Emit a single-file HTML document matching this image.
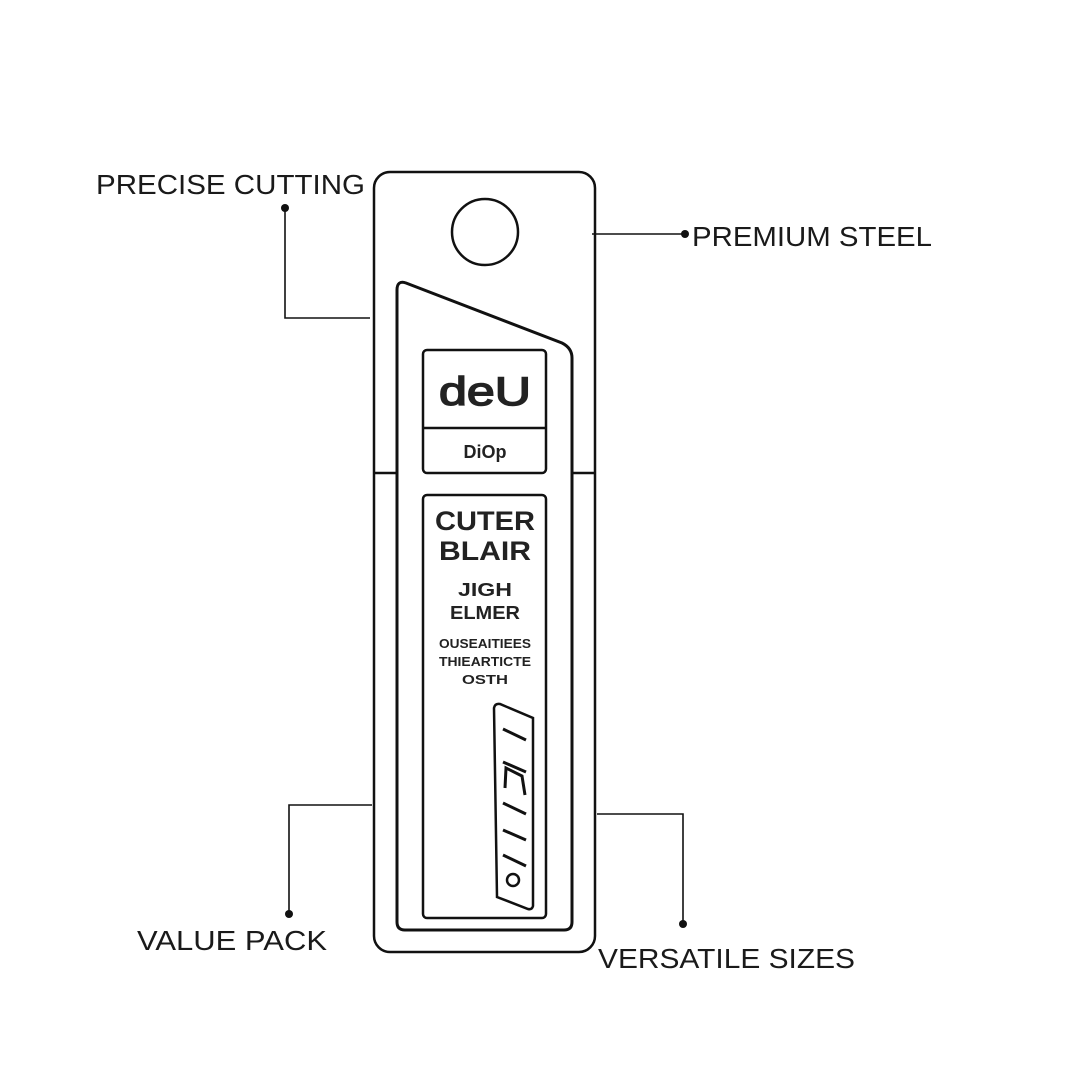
<!DOCTYPE html>
<html><head><meta charset="utf-8"><style>html,body{margin:0;padding:0;background:#fff}</style></head>
<body>
<svg width="1080" height="1080" viewBox="0 0 1080 1080" xmlns="http://www.w3.org/2000/svg">
<rect width="1080" height="1080" fill="#fff"/>
<g fill="none" stroke="#111" stroke-width="2.5">
<rect x="374" y="172" width="221" height="780" rx="16"/>
<circle cx="485" cy="232" r="33"/>
<path d="M397 922 L397 290 Q397 280 406 283 L562 343 Q572 348 572 358 L572 922 Q572 930 564 930 L405 930 Q397 930 397 922 Z" stroke-width="3"/>
<line x1="374" y1="473" x2="397" y2="473"/>
<line x1="572" y1="473" x2="595" y2="473"/>
<rect x="423" y="350" width="123" height="123" rx="4"/>
<line x1="423" y1="428" x2="546" y2="428"/>
<rect x="423" y="495" width="123" height="423" rx="4"/>
<path d="M494 708 Q495 703 500 704 L533 718 L533 906 Q532 910 528 909 L497 897 Z" stroke-width="2.5"/>
<line x1="503" y1="729" x2="526" y2="740" stroke-width="3"/>
<line x1="503" y1="762" x2="526" y2="772" stroke-width="3"/>
<path d="M505 788 L506 768 L522 776 L525 795" stroke-width="3"/>
<line x1="503" y1="803" x2="526" y2="814" stroke-width="3"/>
<line x1="503" y1="830" x2="526" y2="840" stroke-width="3"/>
<line x1="503" y1="855" x2="526" y2="866" stroke-width="3"/>
<circle cx="513" cy="880" r="6"/>
</g>
<g fill="none" stroke="#111" stroke-width="1.6">
<polyline points="285,208 285,318 370,318"/>
<line x1="592" y1="234" x2="685" y2="234"/>
<polyline points="289,914 289,805 372,805"/>
<polyline points="683,924 683,814 597,814"/>
</g>
<g fill="#111">
<circle cx="285" cy="208" r="4"/>
<circle cx="685" cy="234" r="4"/>
<circle cx="289" cy="914" r="4"/>
<circle cx="683" cy="924" r="4"/>
</g>
<g font-family="Liberation Sans, sans-serif" font-size="28" fill="#1a1a1a" font-weight="normal">
<text x="96" y="194" textLength="269" lengthAdjust="spacingAndGlyphs">PRECISE CUTTING</text>
<text x="692" y="246" textLength="240" lengthAdjust="spacingAndGlyphs">PREMIUM STEEL</text>
<text x="137" y="950" textLength="190" lengthAdjust="spacingAndGlyphs">VALUE PACK</text>
<text x="598" y="968" textLength="257" lengthAdjust="spacingAndGlyphs">VERSATILE SIZES</text>
</g>
<g font-family="Liberation Sans, sans-serif" fill="#222" text-anchor="middle" font-weight="bold">
<text x="485" y="405" font-size="40" font-weight="normal" stroke="#222" stroke-width="1.5" textLength="92" lengthAdjust="spacingAndGlyphs">deU</text>
<text x="485" y="458" font-size="18">DiOp</text>
<text x="485" y="530" font-size="27" textLength="100" lengthAdjust="spacingAndGlyphs">CUTER</text>
<text x="485" y="560" font-size="27" textLength="92" lengthAdjust="spacingAndGlyphs">BLAIR</text>
<text x="485" y="596" font-size="18" textLength="54" lengthAdjust="spacingAndGlyphs">JIGH</text>
<text x="485" y="619" font-size="18" textLength="70" lengthAdjust="spacingAndGlyphs">ELMER</text>
<text x="485" y="648" font-size="13" textLength="92" lengthAdjust="spacingAndGlyphs">OUSEAITIEES</text>
<text x="485" y="666" font-size="13" textLength="92" lengthAdjust="spacingAndGlyphs">THIEARTICTE</text>
<text x="485" y="684" font-size="13" textLength="46" lengthAdjust="spacingAndGlyphs">OSTH</text>
</g>
</svg>
</body></html>
